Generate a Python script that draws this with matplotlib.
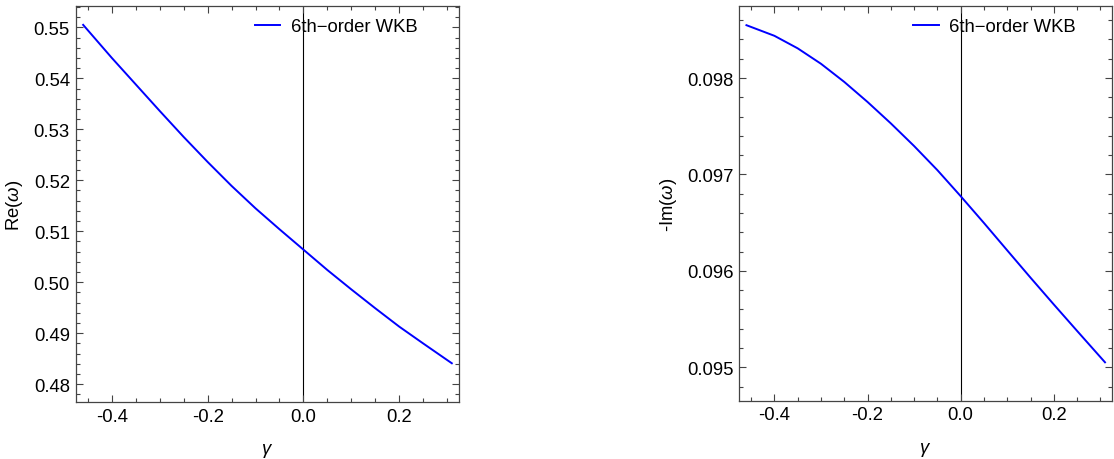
import numpy as np
import matplotlib
matplotlib.use("Agg")
import matplotlib.pyplot as plt
from matplotlib.ticker import MultipleLocator, FormatStrFormatter

plt.rcParams['font.family'] = ['Liberation Sans', 'DejaVu Sans']
plt.rcParams['mathtext.fontset'] = 'custom'
plt.rcParams['mathtext.it'] = 'Liberation Sans:italic'
plt.rcParams['mathtext.rm'] = 'Liberation Sans'

gamma = [-0.46, -0.40, -0.35, -0.30, -0.25, -0.20, -0.15, -0.10, -0.05,
         0.00, 0.05, 0.10, 0.15, 0.20, 0.25, 0.31]
re_omega = [0.5505, 0.5440, 0.5388, 0.5336, 0.5285, 0.5236, 0.5189, 0.5145, 0.5104,
            0.5064, 0.5024, 0.4986, 0.4949, 0.4913, 0.4880, 0.4841]
im_omega = [0.098548, 0.098438, 0.098308, 0.098148, 0.097960, 0.097752, 0.097530,
            0.097295, 0.097045, 0.096775, 0.096497, 0.096213, 0.095930, 0.095652,
            0.095378, 0.095052]

series_label = "6th\u2212order WKB"
ylabels = ["Re($\\mathit{\\omega}$)", "-Im($\\mathit{\\omega}$)"]
xlabel = "$\\mathit{\\gamma}$"

W, H = 1114, 460
fig = plt.figure(figsize=(W / 100, H / 100), dpi=100)

FS = 13.3
spine_col = '#444444'

def make_ax(l, r, t, b):
    return fig.add_axes([l / W, (H - b) / H, (r - l) / W, (b - t) / H])

ax1 = make_ax(75.5, 459, 7, 403)
ax2 = make_ax(739, 1112, 7, 401.7)

configs = [
    (ax1, re_omega, (0.4765, 0.5542), 0.01, 0.002, '%.2f', ylabels[0]),
    (ax2, im_omega, (0.094654, 0.098747), 0.001, 0.0002, '%.3f', ylabels[1]),
]

for ax, vals, ylim, ymaj, ymin, fmt, ylab in configs:
    ax.plot(gamma, vals, color='#0000ff', lw=1.4, label=series_label,
            solid_joinstyle='round')
    ax.axvline(0.0, color='black', lw=0.8, zorder=1)
    ax.set_xlim(-0.476, 0.325)
    ax.set_ylim(*ylim)
    ax.xaxis.set_major_locator(MultipleLocator(0.2))
    ax.xaxis.set_minor_locator(MultipleLocator(0.05))
    ax.xaxis.set_major_formatter(FormatStrFormatter('%.1f'))
    ax.yaxis.set_major_locator(MultipleLocator(ymaj))
    ax.yaxis.set_minor_locator(MultipleLocator(ymin))
    ax.yaxis.set_major_formatter(FormatStrFormatter(fmt))
    ax.tick_params(which='both', direction='in', top=True, right=True,
                   color=spine_col, labelsize=FS, width=0.8)
    ax.tick_params(which='major', length=5, pad=4)
    ax.tick_params(which='minor', length=3)
    for s in ax.spines.values():
        s.set_color(spine_col)
        s.set_linewidth(0.9)
    ax.set_xlabel(xlabel, fontsize=FS, labelpad=12)
    ax.set_ylabel(ylab, fontsize=FS, labelpad=6)
    ax.legend(loc='center left', bbox_to_anchor=(0.467, 0.947), frameon=False,
              fontsize=FS, borderpad=0, borderaxespad=0, handlelength=1.4,
              handletextpad=0.55)

fig.savefig('out.png', dpi=100)
